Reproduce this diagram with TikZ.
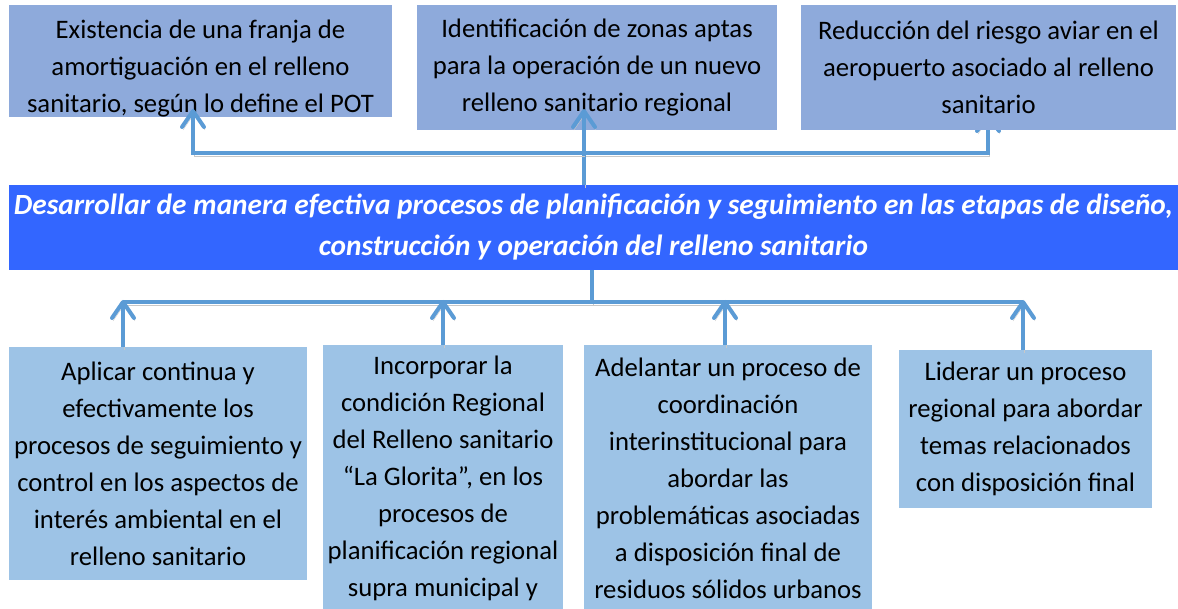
\documentclass[tikz,border=0pt]{standalone}
\usepackage{fontspec}
\setmainfont{Carlito}
\usetikzlibrary{arrows.meta, positioning, backgrounds}
\definecolor{EffectBlue}{HTML}{8EAADB}
\definecolor{ActionBlue}{HTML}{9DC3E6}
\definecolor{GoalBlue}{HTML}{3366FF}
\definecolor{LinkBlue}{HTML}{5B9BD5}
\definecolor{ShadowGray}{HTML}{C8C8C8}

\begin{document}
\begin{tikzpicture}[x=1pt, y=-1pt,
  effect/.style={rectangle, fill=EffectBlue, inner sep=0pt,
    font=\fontsize{26.7}{37}\selectfont, text=black, align=center},
  action/.style={rectangle, fill=ActionBlue, inner sep=0pt,
    font=\fontsize{26.7}{37}\selectfont, text=black, align=center},
  goalbox/.style={rectangle, fill=GoalBlue, inner sep=0pt,
    font=\fontsize{29.3}{41}\selectfont\bfseries\itshape, text=white, align=center},
  bus/.style={line width=4pt, draw=LinkBlue,
    preaction={draw=ShadowGray, transform canvas={shift={(1,3)}}}},
  link/.style={bus, -{Straight Barb[length=16pt, width=22pt, round]}}
]
\path[use as bounding box, clip] (0,0) rectangle (1178,609);

%% Top row — effects
\node[effect, minimum width=383, minimum height=112] (franja) at (200.5,61)
  {\rule{0pt}{34pt}Existencia de una franja de\\amortiguación en el relleno\\sanitario, según lo define el POT};
\node[effect, minimum width=360, minimum height=125] (zonas) at (597,67.5)
  {Identificación de zonas aptas\\para la operación de un nuevo\\relleno sanitario regional};
\node[effect, minimum width=375, minimum height=125] (riesgo) at (988.5,67.5)
  {Reducción del riesgo aviar en el\\aeropuerto asociado al relleno\\sanitario};

%% Middle — goal
\node[goalbox, minimum width=1169, minimum height=85] (goal) at (593.5,227.5)
  {Desarrollar de manera efectiva procesos de planificación y seguimiento en las etapas de diseño,\\construcción y operación del relleno sanitario};

%% Bottom row — actions
\node[action, minimum width=298, minimum height=233] (aplicar) at (158,463.5)
  {Aplicar continua y\\efectivamente los\\procesos de seguimiento y\\control en los aspectos de\\interés ambiental en el\\relleno sanitario};
\node[action, minimum width=240, minimum height=266] (incorporar) at (443,478)
  {Incorporar la\\condición Regional\\del Relleno sanitario\\“La Glorita”, en los\\procesos de\\planificación regional\\supra municipal y};
\node[action, minimum width=288, minimum height=266] (adelantar) at (728,478)
  {Adelantar un proceso de\\coordinación\\interinstitucional para\\abordar las\\problemáticas asociadas\\a disposición final de\\residuos sólidos urbanos};
\node[action, minimum width=253, minimum height=158] (liderar) at (1025.5,429)
  {Liderar un proceso\\regional para abordar\\temas relacionados\\con disposición final};

%% Links up to the effects
\coordinate (upbus) at (584,153);
\coordinate (tipfranja) at (193,109);
\coordinate (tipzonas) at (584,109);
\coordinate (tipriesgo) at (988,113);
\draw[link] (goal.north -| upbus) -- (tipzonas);
\draw[link] (upbus) -| (tipfranja);
\begin{scope}[on background layer]
  \draw[link] (upbus) -| (tipriesgo);
\end{scope}

%% Links up from the actions
\coordinate (downbus) at (592,302);
\coordinate (tipaplicar) at (123,300);
\coordinate (tipincorporar) at (443,300);
\coordinate (tipadelantar) at (725,300);
\coordinate (tipliderar) at (1023,300);
\draw[bus] (goal.south -| downbus) -- (downbus);
\draw[bus] (downbus -| tipaplicar) -- (downbus -| tipliderar);
\draw[link] (aplicar.north -| tipaplicar) -- (tipaplicar);
\draw[link] (incorporar.north -| tipincorporar) -- (tipincorporar);
\draw[link] (adelantar.north -| tipadelantar) -- (tipadelantar);
\draw[link] (liderar.north -| tipliderar) -- (tipliderar);

\end{tikzpicture}
\end{document}
